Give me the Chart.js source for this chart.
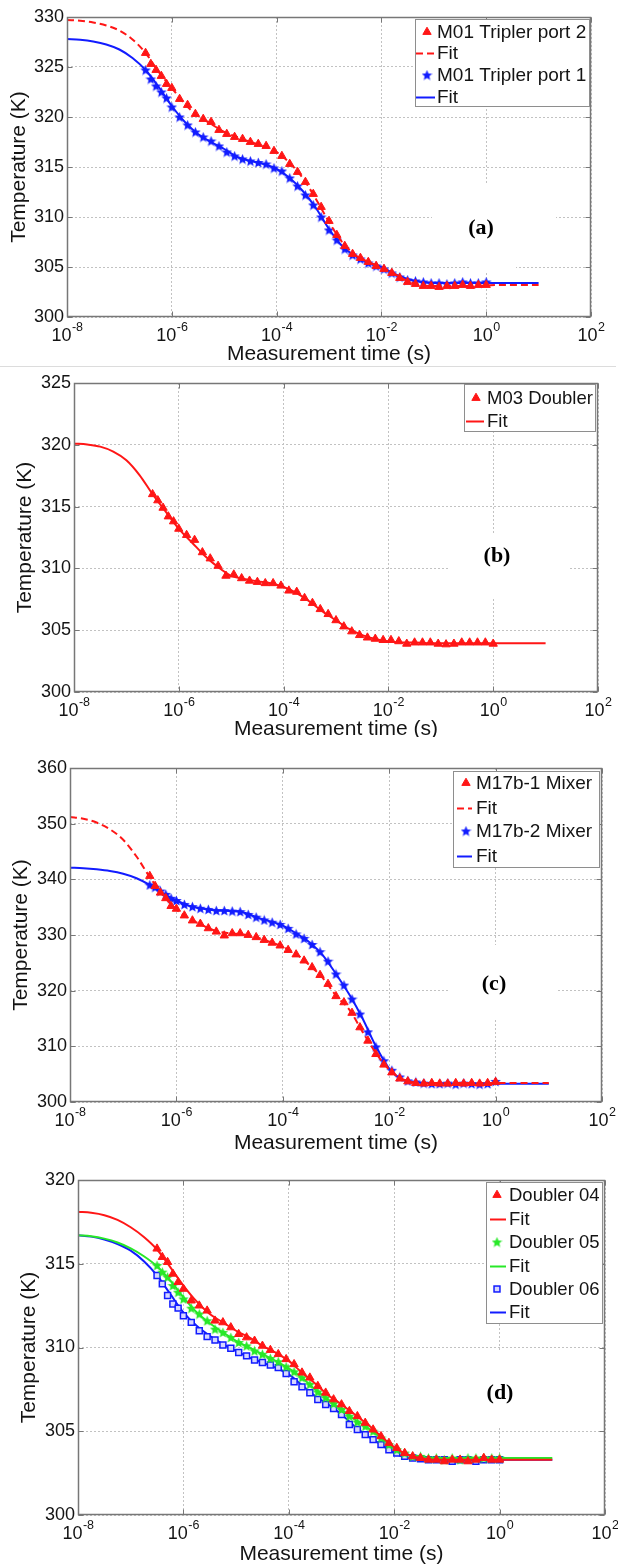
<!DOCTYPE html>
<html><head><meta charset="utf-8">
<script src="https://cdn.jsdelivr.net/npm/chart.js@4.4.1/dist/chart.umd.min.js"></script>
<style>
html,body{margin:0;padding:0;background:#fff;}
body{width:618px;height:1564px;position:relative;overflow:hidden;}
.panel{position:absolute;left:0;width:618px;overflow:hidden;}
.panel canvas{position:absolute;left:0;top:0;}
#sep{position:absolute;left:0;top:366px;width:616px;height:1px;background:#dcdcdc;}
</style></head><body>
<div class="panel" style="top:0px;height:367px"><canvas id="ca"></canvas></div>
<div id="sep"></div>
<div class="panel" style="top:368px;height:369px"><canvas id="cb"></canvas></div>
<div class="panel" style="top:740px;height:418px"><canvas id="cc"></canvas></div>
<div class="panel" style="top:1158px;height:406px"><canvas id="cd"></canvas></div>
<script>
// ---------- data ----------
const measTime = [3.16e-7,3.98e-7,5.01e-7,6.31e-7,7.94e-7,1.0e-6,1.41e-6,2.0e-6,2.82e-6,3.98e-6,
  5.62e-6,7.94e-6,1.12e-5,1.58e-5,2.24e-5,3.16e-5,4.47e-5,6.31e-5,8.91e-5,1.26e-4,
  1.78e-4,2.51e-4,3.55e-4,5.01e-4,7.08e-4,1.0e-3,1.41e-3,2.0e-3,2.82e-3,3.98e-3,
  5.62e-3,7.94e-3,1.12e-2,1.58e-2,2.24e-2,3.16e-2,4.47e-2,6.31e-2,8.91e-2,0.126,
  0.178,0.251,0.355,0.501,0.708,1.0];
const fitTime = [1e-8,1.78e-8,3.16e-8,5.62e-8,1e-7,1.78e-7,3.16e-7,5.62e-7,1e-6,1.78e-6,
  3.16e-6,5.62e-6,1e-5,1.78e-5,3.16e-5,5.62e-5,1e-4,1.78e-4,3.16e-4,5.62e-4,
  1e-3,1.78e-3,3.16e-3,5.62e-3,1e-2,1.78e-2,3.16e-2,5.62e-2,0.1,0.178,
  0.316,0.562,1,1.78,3.16,5.62,10];
const xTickValues = [1e-8,1e-6,1e-4,1e-2,1e0,1e2];
const xTickExponents = ['-8','-6','-4','-2','0','2'];

// (a)
const aYTicks = [300,305,310,315,320,325,330];
const aPort2 = [326.4,325.3,324.7,324.1,323.3,322.9,321.8,321.2,320.3,319.8,
  319.5,318.7,318.3,318.0,317.8,317.5,317.3,317.1,316.6,316.1,
  315.3,314.5,313.5,312.3,311.0,309.6,308.2,307.1,306.3,305.9,
  305.5,305.1,304.8,304.4,303.9,303.5,303.3,303.1,303.1,303.0,
  303.1,303.1,303.2,303.1,303.2,303.2];
const aPort1 = [324.7,323.8,323.1,322.5,321.9,321.0,320.0,319.2,318.5,318.0,
  317.6,317.1,316.5,316.1,315.8,315.6,315.45,315.3,314.9,314.6,
  313.9,313.1,312.2,311.2,310.0,308.7,307.7,306.8,306.2,305.8,
  305.4,305.1,304.8,304.4,304.0,303.7,303.6,303.5,303.4,303.4,
  303.3,303.4,303.5,303.4,303.4,303.5];
const aFit2 = [329.7,329.62,329.45,329.15,328.65,327.75,326.4,324.5,322.9,321.3,
  320.1,319.3,318.5,318.0,317.5,317.1,316.5,315.4,313.9,311.8,
  309.5,307.5,306.2,305.5,305.0,304.3,303.6,303.2,303.1,303.1,
  303.1,303.1,303.15,303.2,303.2,303.2,303.2];
const aFit1 = [327.8,327.72,327.55,327.25,326.75,325.9,324.7,323.0,321.1,319.5,
  318.3,317.5,316.8,316.0,315.6,315.3,314.8,313.9,312.6,310.9,
  308.8,307.1,306.1,305.4,305.0,304.3,303.8,303.5,303.4,303.4,
  303.4,303.4,303.4,303.4,303.4,303.4,303.4];

// (b)
const bYTicks = [300,305,310,315,320,325];
const bM03 = [316.0,315.5,314.9,314.2,313.8,313.2,312.7,312.3,311.3,310.8,
  310.2,309.4,309.5,309.2,309.0,308.9,308.8,308.8,308.6,308.2,
  308.1,307.6,307.2,306.7,306.3,305.8,305.3,304.9,304.6,304.4,
  304.3,304.2,304.2,304.1,303.9,304.0,304.0,304.0,303.9,303.85,
  303.9,304.0,304.0,304.0,304.0,303.9];
const bFit = [320.1,320.02,319.85,319.45,318.75,317.55,316.0,314.6,313.2,312.1,
  311.0,310.1,309.4,309.15,308.95,308.8,308.5,308.0,307.3,306.5,
  305.8,305.1,304.6,304.3,304.1,304.0,304.0,303.95,303.95,303.95,
  303.95,303.95,303.95,303.95,303.95,303.95,303.95];

// (c)
const cYTicks = [300,310,320,330,340,350,360];
const cM1 = [340.6,338.8,337.6,336.6,335.2,334.7,333.5,332.6,332.0,331.2,
  330.6,329.9,330.3,330.3,330.0,329.6,329.1,328.6,328.1,327.3,
  326.5,325.4,324.2,322.8,321.2,319.0,317.9,316.0,313.4,311.0,
  308.6,306.7,305.3,304.2,303.7,303.4,303.3,303.4,303.3,303.3,
  303.4,303.3,303.4,303.3,303.4,303.6];
const cM2 = [339.0,338.6,337.9,337.3,336.6,336.2,335.5,335.1,334.8,334.6,
  334.4,334.4,334.3,334.2,333.7,333.2,332.7,332.3,331.9,331.2,
  330.2,329.4,328.3,327.0,325.3,323.0,321.0,318.5,315.8,312.6,
  309.9,307.4,305.7,304.5,303.8,303.6,303.4,303.3,303.3,303.4,
  303.2,303.4,303.3,303.2,303.3,303.7];
const cFit1 = [351.2,350.9,350.2,349.0,347.1,344.1,340.4,337.1,334.6,332.9,
  331.7,330.7,330.3,330.1,329.6,328.8,327.9,326.6,324.6,322.3,
  319.1,316.6,312.6,308.8,305.8,304.1,303.5,303.4,303.4,303.4,
  303.4,303.4,303.4,303.4,303.4,303.4,303.4];
const cFit2 = [342.1,342.0,341.8,341.5,341.0,340.2,339.0,337.5,336.2,335.2,
  334.7,334.4,334.3,334.1,333.2,332.5,331.7,330.3,328.7,326.4,
  323.0,319.3,315.0,310.0,306.0,304.0,303.5,303.4,303.3,303.3,
  303.3,303.3,303.3,303.3,303.3,303.3,303.3];

// (d)
const dYTicks = [300,305,310,315,320];
const dM04 = [315.9,315.4,315.1,314.4,313.9,313.5,312.8,312.5,312.2,311.6,
  311.5,311.2,310.8,310.6,310.4,310.1,309.85,309.6,309.3,309.0,
  308.5,308.2,307.7,307.3,306.9,306.6,306.2,305.9,305.5,305.1,
  304.7,304.3,304.0,303.7,303.5,303.4,303.3,303.3,303.2,303.3,
  303.3,303.2,303.3,303.4,303.3,303.3];
const dM05 = [314.9,314.5,314.2,313.7,313.3,312.9,312.35,312.0,311.6,311.1,
  310.9,310.6,310.3,310.1,309.8,309.6,309.35,309.15,308.85,308.55,
  308.2,307.8,307.35,307.0,306.65,306.3,305.9,305.55,305.3,305.0,
  304.6,304.2,303.9,303.7,303.5,303.5,303.4,303.4,303.3,303.4,
  303.3,303.4,303.4,303.4,303.4,303.4];
const dM06 = [314.3,313.8,313.1,312.6,312.35,311.9,311.5,311.0,310.65,310.45,
  310.15,309.95,309.7,309.5,309.25,309.1,308.95,308.8,308.45,307.95,
  307.65,307.3,306.9,306.6,306.35,306.0,305.4,305.1,304.8,304.5,
  304.2,303.9,303.7,303.5,303.4,303.35,303.3,303.3,303.3,303.2,
  303.3,303.3,303.2,303.3,303.3,303.3];
const dFit04 = [318.1,318.04,317.9,317.62,317.18,316.6,315.85,314.8,313.7,312.75,
  312.0,311.5,311.0,310.6,310.1,309.7,309.2,308.5,307.85,307.15,
  306.6,306.0,305.4,304.7,304.05,303.6,303.4,303.3,303.3,303.3,
  303.3,303.3,303.3,303.3,303.3,303.3,303.3];
const dFit05 = [316.7,316.64,316.5,316.27,315.92,315.45,314.85,314.0,313.0,312.1,
  311.45,310.9,310.4,310.0,309.6,309.2,308.75,308.2,307.5,306.9,
  306.3,305.7,305.2,304.6,304.0,303.6,303.45,303.4,303.4,303.4,
  303.4,303.4,303.4,303.4,303.4,303.4,303.4];
const dFit06 = [316.7,316.62,316.45,316.18,315.78,315.15,314.3,313.2,312.1,311.3,
  310.7,310.2,309.8,309.4,309.1,308.8,308.4,307.75,307.1,306.6,
  306.0,305.3,304.7,304.2,303.7,303.4,303.3,303.3,303.3,303.3,
  303.3,303.3,303.3,303.3,303.3,303.3,303.3];

// ---------- styles ----------
const RED = 'rgb(255,22,22)', BLUE = 'rgb(18,28,255)', GREEN = 'rgb(40,232,40)';
const GRID = '#c2c2c2', BORDER = '#777777', TXT = '#141414';
const SANS = '"Liberation Sans", Arial, Helvetica, sans-serif';
Chart.defaults.font.family = SANS;
Chart.defaults.color = TXT;

function starImg(color, size){
  const c = document.createElement('canvas'); c.width = c.height = size;
  const g = c.getContext('2d'); const r = size/2, ri = r*0.45;
  g.beginPath();
  for (let i=0;i<10;i++){ const a=-Math.PI/2+i*Math.PI/5; const rr=i%2?ri:r;
    const px=r+rr*Math.cos(a), py=r+rr*Math.sin(a)+0.5; if(i) g.lineTo(px,py); else g.moveTo(px,py); }
  g.closePath(); g.fillStyle = color; g.fill();
  return c;
}
const starBlue = starImg(BLUE, 11), starGreen = starImg(GREEN, 11);

function pts(xs, ys){ return xs.map((x,i)=>({x:x, y:ys[i]})); }
function measSet(label, ys, color, style, radius, bg, bw){
  return {label, kind:'meas', data: pts(measTime, ys), showLine:false,
    pointStyle: style, pointRadius: radius, pointHoverRadius: radius,
    pointBackgroundColor: bg || color, pointBorderColor: color, pointBorderWidth: bw || 1,
    borderColor: color, backgroundColor: bg || color};
}
function fitSet(label, ys, color, dash){
  return {label, kind:'fit', data: pts(fitTime, ys), showLine:true, pointRadius:0,
    borderColor: color, backgroundColor: color, borderWidth: 2, borderDash: dash || [],
    cubicInterpolationMode: 'monotone', fill:false};
}

function drawMarker(ctx, ds, x, y){
  const st = ds.pointStyle, r = ds.pointRadius;
  ctx.save(); ctx.setLineDash([]);
  if (st && typeof st === 'object'){ ctx.drawImage(st, x - st.width/2, y - st.height/2); }
  else if (st === 'triangle'){
    ctx.beginPath(); ctx.moveTo(x, y - r);
    ctx.lineTo(x + r*0.866, y + r*0.5); ctx.lineTo(x - r*0.866, y + r*0.5); ctx.closePath();
    ctx.fillStyle = ds.pointBackgroundColor; ctx.fill();
    ctx.strokeStyle = ds.pointBorderColor; ctx.lineWidth = ds.pointBorderWidth; ctx.stroke();
  } else if (st === 'rect'){
    const s = r*0.707;
    ctx.fillStyle = ds.pointBackgroundColor; ctx.fillRect(x-s, y-s, 2*s, 2*s);
    ctx.strokeStyle = ds.pointBorderColor; ctx.lineWidth = ds.pointBorderWidth; ctx.strokeRect(x-s, y-s, 2*s, 2*s);
  }
  ctx.restore();
}

function decoPlugin(L){
  const dt = L.divTop;
  return {
    id: 'deco',
    beforeDatasetsDraw(chart){
      const ctx = chart.ctx; ctx.save();
      ctx.fillStyle = '#fff';
      L.boxes.forEach(b => ctx.fillRect(b[0], b[1]-dt, b[2]-b[0], b[3]-b[1]));
      ctx.font = 'bold 22px "Liberation Serif", "Times New Roman", serif';
      ctx.fillStyle = '#000'; ctx.textAlign = 'center'; ctx.textBaseline = 'middle';
      ctx.fillText(L.tag, L.tagX, L.tagY - dt);
      ctx.restore();
    },
    afterDraw(chart){
      const ctx = chart.ctx, a = chart.chartArea, xs = chart.scales.x, ys = chart.scales.y;
      ctx.save(); ctx.setLineDash([]);
      // frame
      ctx.strokeStyle = BORDER; ctx.lineWidth = 1.5;
      const l = Math.round(a.left)+0.5, t = Math.round(a.top)+0.5, r = Math.round(a.right)-0.5, b = Math.round(a.bottom)-0.5;
      ctx.strokeRect(l, t, r-l, b-t);
      ctx.lineWidth = 1;
      ctx.beginPath();
      xTickValues.forEach(v => { const px = Math.round(xs.getPixelForValue(v))+0.5;
        ctx.moveTo(px, b); ctx.lineTo(px, b-5); ctx.moveTo(px, t); ctx.lineTo(px, t+5); });
      L.yTicks.forEach(v => { const py = Math.round(ys.getPixelForValue(v))+0.5;
        ctx.moveTo(l, py); ctx.lineTo(l+5, py); ctx.moveTo(r, py); ctx.lineTo(r-5, py); });
      ctx.stroke();
      // x tick labels 10^n
      ctx.fillStyle = TXT; ctx.textBaseline = 'middle'; ctx.textAlign = 'left';
      xTickValues.forEach((v,i) => {
        const px = xs.getPixelForValue(v);
        ctx.font = '18px ' + SANS; const w1 = ctx.measureText('10').width;
        ctx.font = '12.5px ' + SANS; const w2 = ctx.measureText(xTickExponents[i]).width;
        const x0 = px - (w1 + w2)/2;
        ctx.font = '18px ' + SANS; ctx.fillText('10', x0, a.bottom + 19.5);
        ctx.font = '12.5px ' + SANS; ctx.fillText(xTickExponents[i], x0 + w1 + 0.5, a.bottom + 10.5);
      });
      // legend
      const lg = L.legend;
      ctx.fillStyle = '#fff'; ctx.fillRect(lg.box[0], lg.box[1]-dt, lg.box[2]-lg.box[0], lg.box[3]-lg.box[1]);
      ctx.strokeStyle = '#8e8e8e'; ctx.lineWidth = 1;
      ctx.strokeRect(lg.box[0]+0.5, lg.box[1]-dt+0.5, lg.box[2]-lg.box[0]-1, lg.box[3]-lg.box[1]-1);
      chart.data.datasets.forEach((ds,i) => {
        const y = lg.rows[i] - dt;
        if (ds.kind === 'fit'){
          ctx.save(); ctx.strokeStyle = ds.borderColor; ctx.lineWidth = 2; ctx.setLineDash(ds.borderDash);
          ctx.beginPath(); ctx.moveTo(lg.line[0], y+0.5); ctx.lineTo(lg.line[1], y+0.5); ctx.stroke(); ctx.restore();
        } else {
          drawMarker(ctx, ds, lg.markX, y);
        }
        ctx.fillStyle = TXT; ctx.font = lg.font + 'px ' + SANS; ctx.textAlign = 'left'; ctx.textBaseline = 'middle';
        ctx.fillText(ds.label, lg.textX, y + 1);
      });
      ctx.restore();
    }
  };
}

function makePanel(id, L, datasets){
  const canvas = document.getElementById(id);
  canvas.width = 618; canvas.height = L.canvasH;
  canvas.style.width = '618px'; canvas.style.height = L.canvasH + 'px';
  new Chart(canvas, {
    type: 'scatter',
    data: { datasets },
    options: {
      responsive: false, animation: false, events: [],
      layout: { padding: { top: L.plotTop - L.divTop, right: 618 - L.plotRight, left: 0, bottom: 0 } },
      plugins: { legend: { display: false }, tooltip: { enabled: false } },
      elements: { line: { tension: 0 } },
      scales: {
        x: {
          type: 'logarithmic', min: 1e-8, max: 1e2,
          afterBuildTicks: s => { s.ticks = xTickValues.map(v => ({ value: v })); },
          afterFit: s => { s.height = L.canvasH - (L.plotBottom - L.divTop); },
          ticks: { display: false },
          grid: { color: GRID, lineWidth: 1, drawTicks: false },
          border: { display: false, dash: [2, 2] },
          title: { display: true, text: 'Measurement time (s)', color: TXT,
                   font: { size: 21, family: SANS }, padding: { top: 0, bottom: L.xTitlePad } }
        },
        y: {
          type: 'linear', min: L.yTicks[0], max: L.yTicks[L.yTicks.length-1],
          afterBuildTicks: s => { s.ticks = L.yTicks.map(v => ({ value: v })); },
          afterFit: s => { s.width = L.plotLeft; },
          ticks: { font: { size: 18, family: SANS }, color: TXT, padding: 3 },
          grid: { color: GRID, lineWidth: 1, drawTicks: false },
          border: { display: false, dash: [2, 2] },
          title: { display: true, text: 'Temperature (K)', color: TXT,
                   font: { size: 21, family: SANS }, padding: { top: L.yTitlePad, bottom: 0 } }
        }
      }
    },
    plugins: [decoPlugin(L)]
  });
}

// ---------- panels ----------
makePanel('ca', {
  divTop: 0, canvasH: 367, plotTop: 17, plotBottom: 317, plotLeft: 67, plotRight: 591,
  yTicks: aYTicks, xTitlePad: 0, yTitlePad: 6.4,
  boxes: [[432,185,556,262],[470,255,516,273]], tag: '(a)', tagX: 481, tagY: 228,
  legend: { box: [415,19,590,107], rows: [32,53,75,97], line: [416,435], markX: 427, textX: 437, font: 19 }
}, [
  measSet('M01 Tripler port 2', aPort2, RED, 'triangle', 4.8),
  fitSet('Fit', aFit2, RED, [7,4]),
  measSet('M01 Tripler port 1', aPort1, BLUE, starBlue, 4),
  fitSet('Fit', aFit1, BLUE)
]);

makePanel('cb', {
  divTop: 368, canvasH: 390, plotTop: 383, plotBottom: 692, plotLeft: 74, plotRight: 598,
  yTicks: bYTicks, xTitlePad: 16.4, yTitlePad: 12.4,
  boxes: [[450,533,570,598]], tag: '(b)', tagX: 497, tagY: 556,
  legend: { box: [464,384,596,432], rows: [398,421], line: [466,484], markX: 476, textX: 487, font: 18.5 }
}, [
  measSet('M03 Doubler', bM03, RED, 'triangle', 4.8),
  fitSet('Fit', bFit, RED)
]);

makePanel('cc', {
  divTop: 740, canvasH: 418, plotTop: 768, plotBottom: 1102, plotLeft: 70, plotRight: 602,
  yTicks: cYTicks, xTitlePad: 2.4, yTitlePad: 8.9,
  boxes: [[448,945,556,1020]], tag: '(c)', tagX: 494, tagY: 984,
  legend: { box: [453,771,600,868], rows: [783,808,831,856], line: [457,472], markX: 466, textX: 476, font: 19 }
}, [
  measSet('M17b-1 Mixer', cM1, RED, 'triangle', 4.8),
  fitSet('Fit', cFit1, RED, [7,4]),
  measSet('M17b-2 Mixer', cM2, BLUE, starBlue, 4),
  fitSet('Fit', cFit2, BLUE)
]);

makePanel('cd', {
  divTop: 1158, canvasH: 412, plotTop: 1180, plotBottom: 1515, plotLeft: 78, plotRight: 605,
  yTicks: dYTicks, xTitlePad: 3.4, yTitlePad: 16.4,
  boxes: [[450,1352,560,1428]], tag: '(d)', tagX: 500, tagY: 1393,
  legend: { box: [486,1182,603,1324], rows: [1195,1219,1242,1266,1289,1312], line: [490,506], markX: 497, textX: 509, font: 18.5 }
}, [
  measSet('Doubler 04', dM04, RED, 'triangle', 4.8),
  fitSet('Fit', dFit04, RED),
  measSet('Doubler 05', dM05, GREEN, starGreen, 4),
  fitSet('Fit', dFit05, GREEN),
  measSet('Doubler 06', dM06, BLUE, 'rect', 4.2, '#d6d6ff', 1.5),
  fitSet('Fit', dFit06, BLUE)
]);
</script>
</body></html>
